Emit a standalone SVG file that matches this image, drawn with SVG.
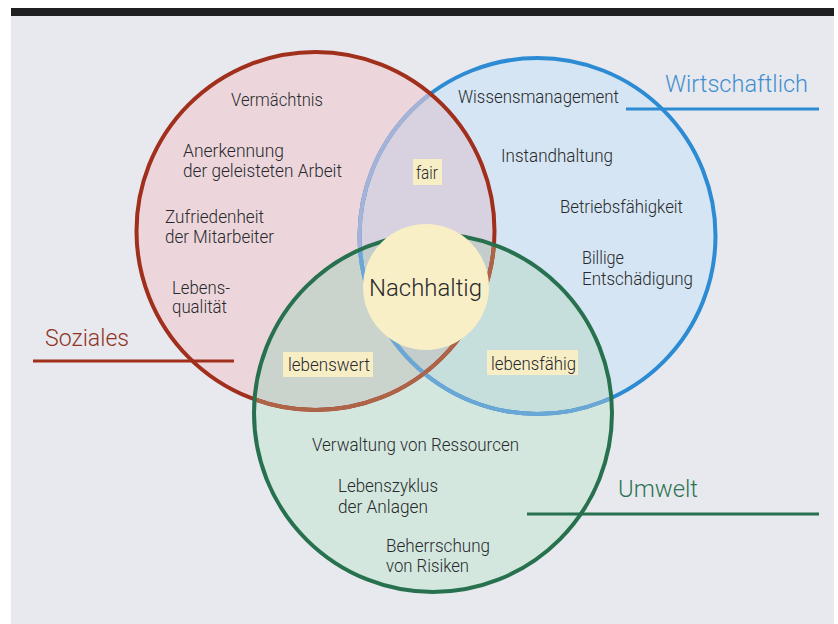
<svg xmlns="http://www.w3.org/2000/svg" width="838" height="624" viewBox="0 0 838 624">
<style>
.t{font-family:Roboto,"Liberation Sans",sans-serif;font-size:17.5px;font-weight:300;fill:#28292c}
.h{font-family:Roboto,"Liberation Sans",sans-serif;font-size:23px;font-weight:300}
.box{fill:#f7eec6}
.s{fill:none;stroke-width:4}
</style>
<defs>
<clipPath id="cRed"><circle cx="315.5" cy="231" r="179"/></clipPath>
<clipPath id="cBlue"><circle cx="537.5" cy="236" r="178"/></clipPath>
<clipPath id="cGreen"><circle cx="433" cy="413" r="179"/></clipPath>
</defs>
<rect x="0" y="0" width="838" height="624" fill="#ffffff"/>
<rect x="11" y="16" width="823" height="608" fill="#e8e9ee"/>
<rect x="11" y="8" width="823" height="8" fill="#1f1f21"/>

<g id="fills">
<circle cx="537.5" cy="236" r="178" fill="#d5e5f3"/>
<circle cx="315.5" cy="231" r="179" fill="#ecd6dc"/>
<circle cx="433" cy="413" r="179" fill="#d3e7df"/>
<circle cx="315.5" cy="231" r="179" fill="#d8d1df" clip-path="url(#cBlue)"/>
<circle cx="433" cy="413" r="179" fill="#cbd3cd" clip-path="url(#cRed)"/>
<circle cx="433" cy="413" r="179" fill="#c6dfdc" clip-path="url(#cBlue)"/>
<g clip-path="url(#cRed)"><circle cx="433" cy="413" r="179" fill="#c3cdcc" clip-path="url(#cBlue)"/></g>
</g>

<g id="outlines">
<circle class="s" cx="537.5" cy="236" r="178" stroke="#2c8bd3"/>
<circle class="s" cx="537.5" cy="236" r="178" stroke="#a6b3d6" clip-path="url(#cRed)"/>
<circle class="s" cx="315.5" cy="231" r="179" stroke="#a02f1c"/>
<circle class="s" cx="537.5" cy="236" r="178" stroke="#6aa7d4" clip-path="url(#cGreen)"/>
<circle class="s" cx="315.5" cy="231" r="179" stroke="#ad6447" clip-path="url(#cGreen)"/>
<circle class="s" cx="433" cy="413" r="179" stroke="#27714f"/>
</g>

<g id="soziales">
<text class="h" x="45" y="346" fill="#8f3426" textLength="84" lengthAdjust="spacingAndGlyphs">Soziales</text>
<line x1="33" y1="361" x2="234" y2="361" stroke="#a02f1c" stroke-width="3"/>
<text class="t" x="231" y="106" textLength="92" lengthAdjust="spacingAndGlyphs">Vermächtnis</text>
<text class="t" x="183" y="157" textLength="101" lengthAdjust="spacingAndGlyphs">Anerkennung</text>
<text class="t" x="183" y="177" textLength="159" lengthAdjust="spacingAndGlyphs">der geleisteten Arbeit</text>
<text class="t" x="165" y="223" textLength="99" lengthAdjust="spacingAndGlyphs">Zufriedenheit</text>
<text class="t" x="165" y="243" textLength="109" lengthAdjust="spacingAndGlyphs">der Mitarbeiter</text>
<text class="t" x="172" y="294" textLength="58" lengthAdjust="spacingAndGlyphs">Lebens-</text>
<text class="t" x="172" y="313" textLength="55" lengthAdjust="spacingAndGlyphs">qualität</text>
</g>

<g id="wirtschaftlich">
<text class="h" x="665" y="92" fill="#3f8fd0" textLength="143" lengthAdjust="spacingAndGlyphs">Wirtschaftlich</text>
<line x1="626" y1="109" x2="819" y2="109" stroke="#2c8bd3" stroke-width="3"/>
<text class="t" x="458" y="103" textLength="161" lengthAdjust="spacingAndGlyphs">Wissensmanagement</text>
<text class="t" x="501" y="162" textLength="112" lengthAdjust="spacingAndGlyphs">Instandhaltung</text>
<text class="t" x="560" y="213" textLength="123" lengthAdjust="spacingAndGlyphs">Betriebsfähigkeit</text>
<text class="t" x="582" y="264" textLength="42" lengthAdjust="spacingAndGlyphs">Billige</text>
<text class="t" x="582" y="285" textLength="111" lengthAdjust="spacingAndGlyphs">Entschädigung</text>
</g>

<g id="umwelt">
<text class="h" x="618" y="497" fill="#2d7452" textLength="80" lengthAdjust="spacingAndGlyphs">Umwelt</text>
<line x1="527" y1="514" x2="819" y2="514" stroke="#27714f" stroke-width="3"/>
<text class="t" x="312" y="451" textLength="207" lengthAdjust="spacingAndGlyphs">Verwaltung von Ressourcen</text>
<text class="t" x="338" y="492" textLength="100" lengthAdjust="spacingAndGlyphs">Lebenszyklus</text>
<text class="t" x="338" y="513" textLength="90" lengthAdjust="spacingAndGlyphs">der Anlagen</text>
<text class="t" x="386" y="552" textLength="104" lengthAdjust="spacingAndGlyphs">Beherrschung</text>
<text class="t" x="386" y="572" textLength="83" lengthAdjust="spacingAndGlyphs">von Risiken</text>
</g>

<g id="fair">
<rect class="box" x="413" y="159" width="29" height="26"/>
<text class="t" x="416" y="179" textLength="22" lengthAdjust="spacingAndGlyphs">fair</text>
</g>

<g id="lebenswert">
<rect class="box" x="283" y="352" width="90" height="25"/>
<text class="t" x="288" y="371" textLength="82" lengthAdjust="spacingAndGlyphs">lebenswert</text>
</g>

<g id="lebensfaehig">
<rect class="box" x="487" y="350" width="91" height="25"/>
<text class="t" x="491" y="370" textLength="85" lengthAdjust="spacingAndGlyphs">lebensfähig</text>
</g>

<g id="nachhaltig">
<circle cx="426" cy="287" r="63" fill="#f8efc6"/>
<text class="t" x="369" y="296" style="font-size:23px" textLength="113" lengthAdjust="spacingAndGlyphs">Nachhaltig</text>
</g>
</svg>
